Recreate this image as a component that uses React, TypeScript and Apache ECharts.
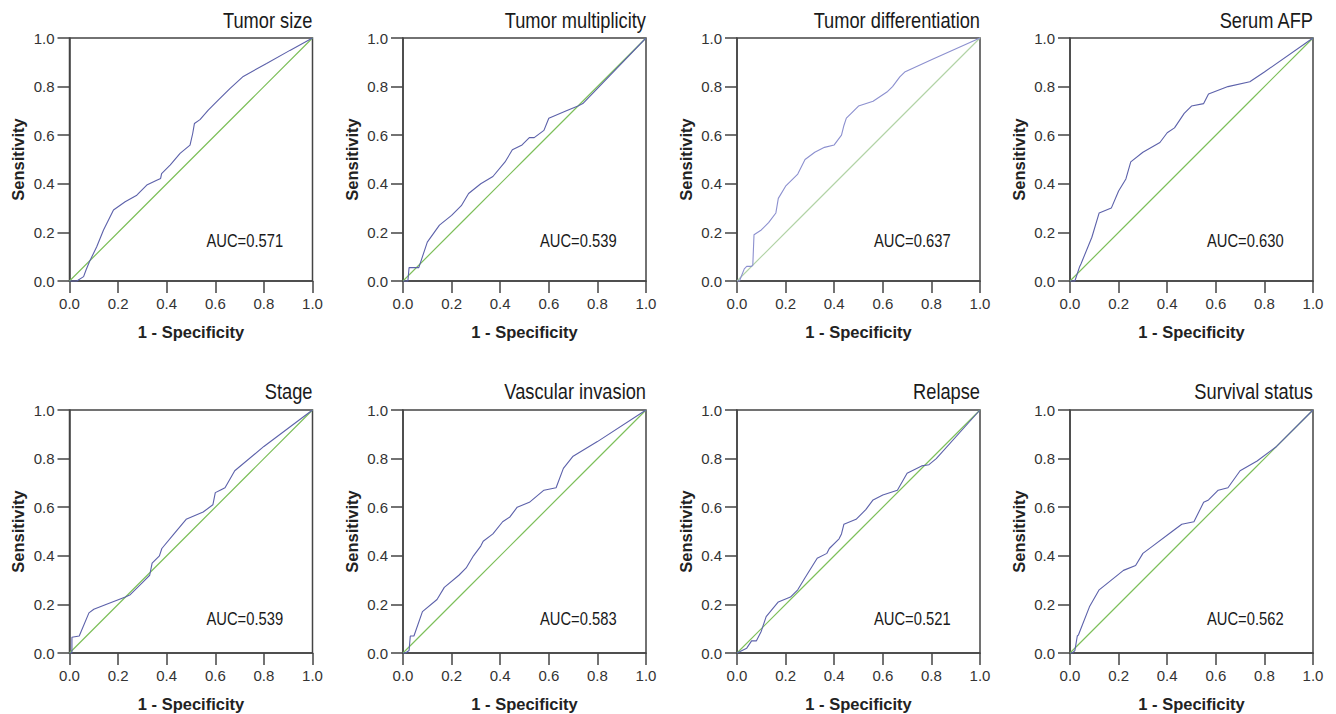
import React, { useEffect, useRef } from "react";
import * as echarts from "echarts";

const titles = [
  "Tumor size", "Tumor multiplicity", "Tumor differentiation", "Serum AFP",
  "Stage", "Vascular invasion", "Relapse", "Survival status",
];
const aucLabels = ["AUC=0.571", "AUC=0.539", "AUC=0.637", "AUC=0.630", "AUC=0.539", "AUC=0.583", "AUC=0.521", "AUC=0.562"];

const tumorSizeFpr = [0, 0.03, 0.058, 0.068, 0.082, 0.112, 0.14, 0.181, 0.229, 0.277, 0.318, 0.359, 0.375, 0.379, 0.414, 0.455, 0.496, 0.507, 0.514, 0.537, 0.571, 0.612, 0.66, 0.715, 0.811, 0.907, 1];
const tumorSizeTpr = [0, 0, 0.018, 0.045, 0.079, 0.141, 0.21, 0.292, 0.326, 0.353, 0.395, 0.415, 0.422, 0.442, 0.477, 0.525, 0.559, 0.607, 0.648, 0.664, 0.703, 0.744, 0.792, 0.842, 0.895, 0.949, 1];

const multiplicityFpr = [0, 0.02, 0.025, 0.065, 0.1, 0.15, 0.2, 0.24, 0.27, 0.32, 0.37, 0.42, 0.45, 0.49, 0.52, 0.54, 0.58, 0.6, 0.67, 0.72, 0.74, 1];
const multiplicityTpr = [0, 0, 0.055, 0.055, 0.16, 0.23, 0.27, 0.31, 0.36, 0.4, 0.43, 0.49, 0.54, 0.56, 0.59, 0.59, 0.62, 0.67, 0.7, 0.72, 0.73, 1];

const differentiationFpr = [0, 0.01, 0.03, 0.04, 0.06, 0.065, 0.07, 0.1, 0.13, 0.16, 0.17, 0.2, 0.25, 0.28, 0.32, 0.36, 0.4, 0.43, 0.44, 0.45, 0.47, 0.5, 0.56, 0.62, 0.64, 0.67, 0.69, 0.8, 1];
const differentiationTpr = [0, 0, 0.05, 0.06, 0.06, 0.065, 0.19, 0.21, 0.24, 0.28, 0.34, 0.39, 0.44, 0.5, 0.53, 0.55, 0.56, 0.6, 0.64, 0.67, 0.69, 0.72, 0.74, 0.78, 0.8, 0.84, 0.86, 0.91, 1];

const afpFpr = [0, 0.02, 0.04, 0.045, 0.09, 0.12, 0.17, 0.2, 0.23, 0.25, 0.3, 0.37, 0.4, 0.43, 0.47, 0.5, 0.55, 0.57, 0.65, 0.74, 0.8, 1];
const afpTpr = [0, 0, 0.06, 0.07, 0.18, 0.28, 0.3, 0.37, 0.42, 0.49, 0.53, 0.57, 0.61, 0.63, 0.69, 0.72, 0.73, 0.77, 0.8, 0.82, 0.86, 1];

const stageFpr = [0, 0.01, 0.01, 0.04, 0.08, 0.1, 0.15, 0.23, 0.25, 0.3, 0.33, 0.34, 0.37, 0.38, 0.43, 0.48, 0.55, 0.59, 0.6, 0.62, 0.64, 0.68, 0.8, 1];
const stageTpr = [0, 0, 0.065, 0.07, 0.165, 0.18, 0.2, 0.23, 0.24, 0.29, 0.32, 0.37, 0.4, 0.43, 0.49, 0.55, 0.58, 0.61, 0.66, 0.67, 0.68, 0.75, 0.85, 1];

const vascularFpr = [0, 0.01, 0.025, 0.03, 0.045, 0.08, 0.14, 0.17, 0.23, 0.26, 0.29, 0.32, 0.33, 0.37, 0.41, 0.44, 0.47, 0.52, 0.58, 0.63, 0.66, 0.7, 0.8, 1];
const vascularTpr = [0, 0, 0.01, 0.07, 0.07, 0.17, 0.22, 0.27, 0.32, 0.35, 0.4, 0.44, 0.46, 0.49, 0.54, 0.56, 0.6, 0.62, 0.67, 0.68, 0.76, 0.81, 0.87, 1];

const relapseFpr = [0, 0.04, 0.06, 0.08, 0.1, 0.12, 0.17, 0.22, 0.25, 0.28, 0.33, 0.37, 0.38, 0.42, 0.43, 0.44, 0.49, 0.53, 0.56, 0.6, 0.66, 0.7, 0.76, 0.79, 0.82, 1];
const relapseTpr = [0, 0.02, 0.05, 0.05, 0.09, 0.15, 0.21, 0.23, 0.26, 0.31, 0.39, 0.41, 0.43, 0.47, 0.49, 0.53, 0.55, 0.59, 0.63, 0.65, 0.67, 0.74, 0.77, 0.775, 0.8, 1];

const survivalFpr = [0, 0.01, 0.02, 0.03, 0.035, 0.08, 0.12, 0.17, 0.22, 0.27, 0.3, 0.34, 0.42, 0.46, 0.51, 0.53, 0.55, 0.57, 0.61, 0.65, 0.7, 0.77, 0.85, 1];
const survivalTpr = [0, 0, 0.01, 0.07, 0.075, 0.19, 0.26, 0.3, 0.34, 0.36, 0.41, 0.44, 0.5, 0.53, 0.54, 0.58, 0.62, 0.63, 0.67, 0.68, 0.75, 0.79, 0.85, 1];

const curvesFpr = [tumorSizeFpr, multiplicityFpr, differentiationFpr, afpFpr, stageFpr, vascularFpr, relapseFpr, survivalFpr];
const curvesTpr = [tumorSizeTpr, multiplicityTpr, differentiationTpr, afpTpr, stageTpr, vascularTpr, relapseTpr, survivalTpr];
const diagonal = [0, 0.25, 0.5, 0.75, 1];

const W = 1336;
const H = 714;
const gridLefts = [69.5, 403, 737, 1070];
const gridTops = [38, 410];
const SIZE = 243;
const FONT = '"Liberation Sans", Arial, Helvetica, sans-serif';

function buildOption() {
  const grid: any[] = [];
  const xAxis: any[] = [];
  const yAxis: any[] = [];
  const series: any[] = [];
  const graphic: any[] = [];
  for (let i = 0; i < 8; i++) {
    const row = Math.floor(i / 4);
    const col = i % 4;
    const left = gridLefts[col];
    const top = gridTops[row];
    const faded = i === 2;
    grid.push({ left, top, width: SIZE, height: SIZE, show: true, borderColor: "#444", borderWidth: 1.5, backgroundColor: "transparent" });
    const axisCommon = {
      gridIndex: i, type: "value", min: 0, max: 1, interval: 0.2,
      splitLine: { show: false },
      axisLine: { show: true, lineStyle: { color: "#444", width: 1.5 } },
      axisTick: { show: true, length: 12, lineStyle: { color: "#444", width: 1.5 } },
      axisLabel: { color: "#333", fontSize: 15, fontFamily: FONT, margin: 15, formatter: (v: number) => v.toFixed(1) },
      nameLocation: "middle",
      nameTextStyle: { color: "#222", fontSize: 16.5, fontWeight: "bold", fontFamily: FONT },
    };
    xAxis.push({ ...axisCommon, name: "1 - Specificity", nameGap: 42 });
    yAxis.push({ ...axisCommon, name: "Sensitivity", nameGap: 43 });
    const diagColor = faded ? "#b2d3a6" : "#7dbf5a";
    series.push({
      type: "line", xAxisIndex: i, yAxisIndex: i, showSymbol: false, silent: true, clip: false,
      color: diagColor, itemStyle: { color: diagColor },
      lineStyle: { color: diagColor, width: 1.2, opacity: 1 },
      data: diagonal.map((d) => [d, d]),
      z: 2,
    });
    const curveColor = faded ? "#8c90cf" : "#5c61aa";
    series.push({
      type: "line", xAxisIndex: i, yAxisIndex: i, showSymbol: false, silent: true, clip: false,
      color: curveColor, itemStyle: { color: curveColor },
      lineStyle: { color: curveColor, width: 1.1 },
      data: curvesFpr[i].map((x, k) => [x, curvesTpr[i][k]]),
      z: 3,
    });
    graphic.push({
      type: "text", x: left + SIZE, y: row === 0 ? 20.5 : 391.5, scaleX: 0.83,
      style: { text: titles[i], fill: "#1a1a1a", fontSize: 22, fontFamily: FONT, textAlign: "right", textVerticalAlign: "middle", align: "right", verticalAlign: "middle" },
    });
    graphic.push({
      type: "text", x: left + 137, y: top + SIZE - (row === 0 ? 41 : 35), scaleX: 0.82,
      style: { text: aucLabels[i], fill: "#1a1a1a", fontSize: 18, fontFamily: FONT, textAlign: "left", textVerticalAlign: "middle", align: "left", verticalAlign: "middle" },
    });
  }
  return { animation: false, backgroundColor: "#fff", grid, xAxis, yAxis, series, graphic };
}

export default function App() {
  const ref = useRef<HTMLDivElement>(null);
  useEffect(() => {
    if (!ref.current) return;
    const chart = echarts.init(ref.current, undefined, { renderer: "svg" });
    chart.setOption(buildOption() as any);
    return () => chart.dispose();
  }, []);
  return <div ref={ref} style={{ position: "fixed", left: 0, top: 0, width: W, height: H, background: "#fff" }} />;
}
